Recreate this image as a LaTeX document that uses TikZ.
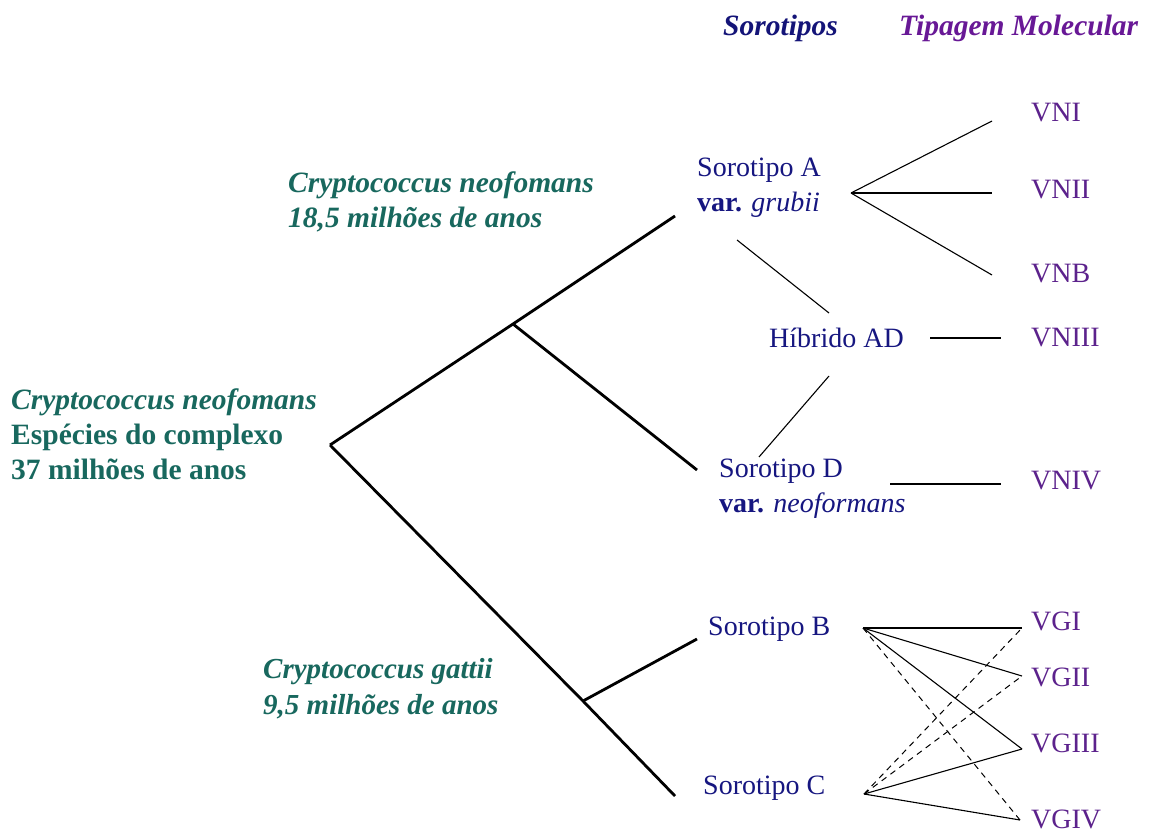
\documentclass[tikz,border=0pt]{standalone}
\usepackage{fontspec}
\setmainfont{Liberation Serif}
\definecolor{cteal}{RGB}{24,104,94}
\definecolor{cnavy}{RGB}{22,22,128}
\definecolor{chead}{RGB}{20,20,120}
\definecolor{cpurp}{RGB}{104,24,150}
\definecolor{cvn}{RGB}{92,34,140}
\begin{document}
\begin{tikzpicture}[x=1pt,y=-1pt,
  tree/.style={line width=2.8pt},
  link/.style={line width=1.1pt},
  dlink/.style={line width=1pt, dash pattern=on 6pt off 5pt},
  txt/.style={inner sep=0pt, anchor=west, align=left, font=\fontsize{28}{35}\selectfont},
  spec/.style={txt, text=cteal, font=\fontsize{29.5}{35}\selectfont\bfseries\itshape},
  sero/.style={txt, text=cnavy},
  mol/.style={txt, text=cvn},
  head/.style={txt, font=\fontsize{29.5}{33}\selectfont\bfseries\itshape}]
\useasboundingbox[fill=white] (0,0) rectangle (1150,832);

% headers
\node[head, text=chead] (hsero) at (723,28) {Sorotipos};
\node[head, text=cpurp] (hmol) at (899,28) {Tipagem Molecular};

% species labels
\node[spec] (neo1) at (288,202) {Cryptococcus neofomans\\18,5 milhões de anos};
\node[txt, text=cteal, font=\fontsize{29.5}{35}\selectfont] (rootlbl) at (11,434) {{\bfseries\itshape Cryptococcus neofomans}\\\bfseries Espécies do complexo\\\bfseries 37 milhões de anos};
\node[spec, font=\fontsize{29}{36}\selectfont\bfseries\itshape] (gat) at (263,689) {Cryptococcus gattii\\9,5 milhões de anos};

% serotypes
\node[sero] (A) at (697,188) {Sorotipo A\\{\bfseries var.} \textit{grubii}};
\node[sero] (AD) at (769,338) {Híbrido AD};
\node[sero] (D) at (719,489) {Sorotipo D\\{\bfseries var.} \textit{neoformans}};
\node[sero] (B) at (708,629) {Sorotipo B};
\node[sero] (C) at (703,788) {Sorotipo C};

% molecular types
\node[mol] (VNI) at (1031,113) {VNI};
\node[mol] (VNII) at (1031,190) {VNII};
\node[mol] (VNB) at (1031,274) {VNB};
\node[mol] (VNIII) at (1031,338) {VNIII};
\node[mol] (VNIV) at (1031,481) {VNIV};
\node[mol] (VGI) at (1031,621) {VGI};
\node[mol] (VGII) at (1031,677) {VGII};
\node[mol] (VGIII) at (1031,743) {VGIII};
\node[mol] (VGIV) at (1031,819) {VGIV};

% tree coordinates
\coordinate (root) at (330,445);
\coordinate (n1) at (513,324);
\coordinate (tA) at (675,216);
\coordinate (tD) at (697,470);
\coordinate (n2) at (583,701);
\coordinate (tB) at (697,639);
\coordinate (tC) at (675,796);

\draw[tree] (root) -- (n1) -- (tA);
\draw[tree] (n1) -- (tD);
\draw[tree] (root) -- (n2) -- (tC);
\draw[tree] (n2) -- (tB);

% connector coordinates
\coordinate (hA) at (851,193);
\coordinate (eVNI) at (992,121);
\coordinate (eVNII) at (992,193);
\coordinate (eVNB) at (992,275);
\coordinate (aAD1) at (737,240);
\coordinate (aAD2) at (829,313);
\coordinate (dAD1) at (829,376);
\coordinate (dAD2) at (759,457);
\coordinate (sVNIII) at (930,338);
\coordinate (eVNIII) at (1001,338);
\coordinate (sVNIV) at (890,484);
\coordinate (eVNIV) at (1001,484);
\coordinate (hB) at (863,628);
\coordinate (hC) at (864,794);
\coordinate (eVGI) at (1022,628);
\coordinate (eVGII) at (1022,676);
\coordinate (eVGIII) at (1022,749);
\coordinate (eVGIV) at (1020,820);

\draw[link] (hA) -- (eVNI);
\draw[link] (hA) -- (eVNII);
\draw[link] (hA) -- (eVNB);
\draw[link] (aAD1) -- (aAD2);
\draw[link] (dAD1) -- (dAD2);
\draw[link] (sVNIII) -- (eVNIII);
\draw[link] (sVNIV) -- (eVNIV);

\draw[link] (hB) -- (eVGI);
\draw[link] (hB) -- (eVGII);
\draw[link] (hB) -- (eVGIII);
\draw[link] (hC) -- (eVGIII);
\draw[link] (hC) -- (eVGIV);
\draw[dlink] (hB) -- (eVGIV);
\draw[dlink] (hC) -- (eVGI);
\draw[dlink] (hC) -- (eVGII);
\end{tikzpicture}
\end{document}
